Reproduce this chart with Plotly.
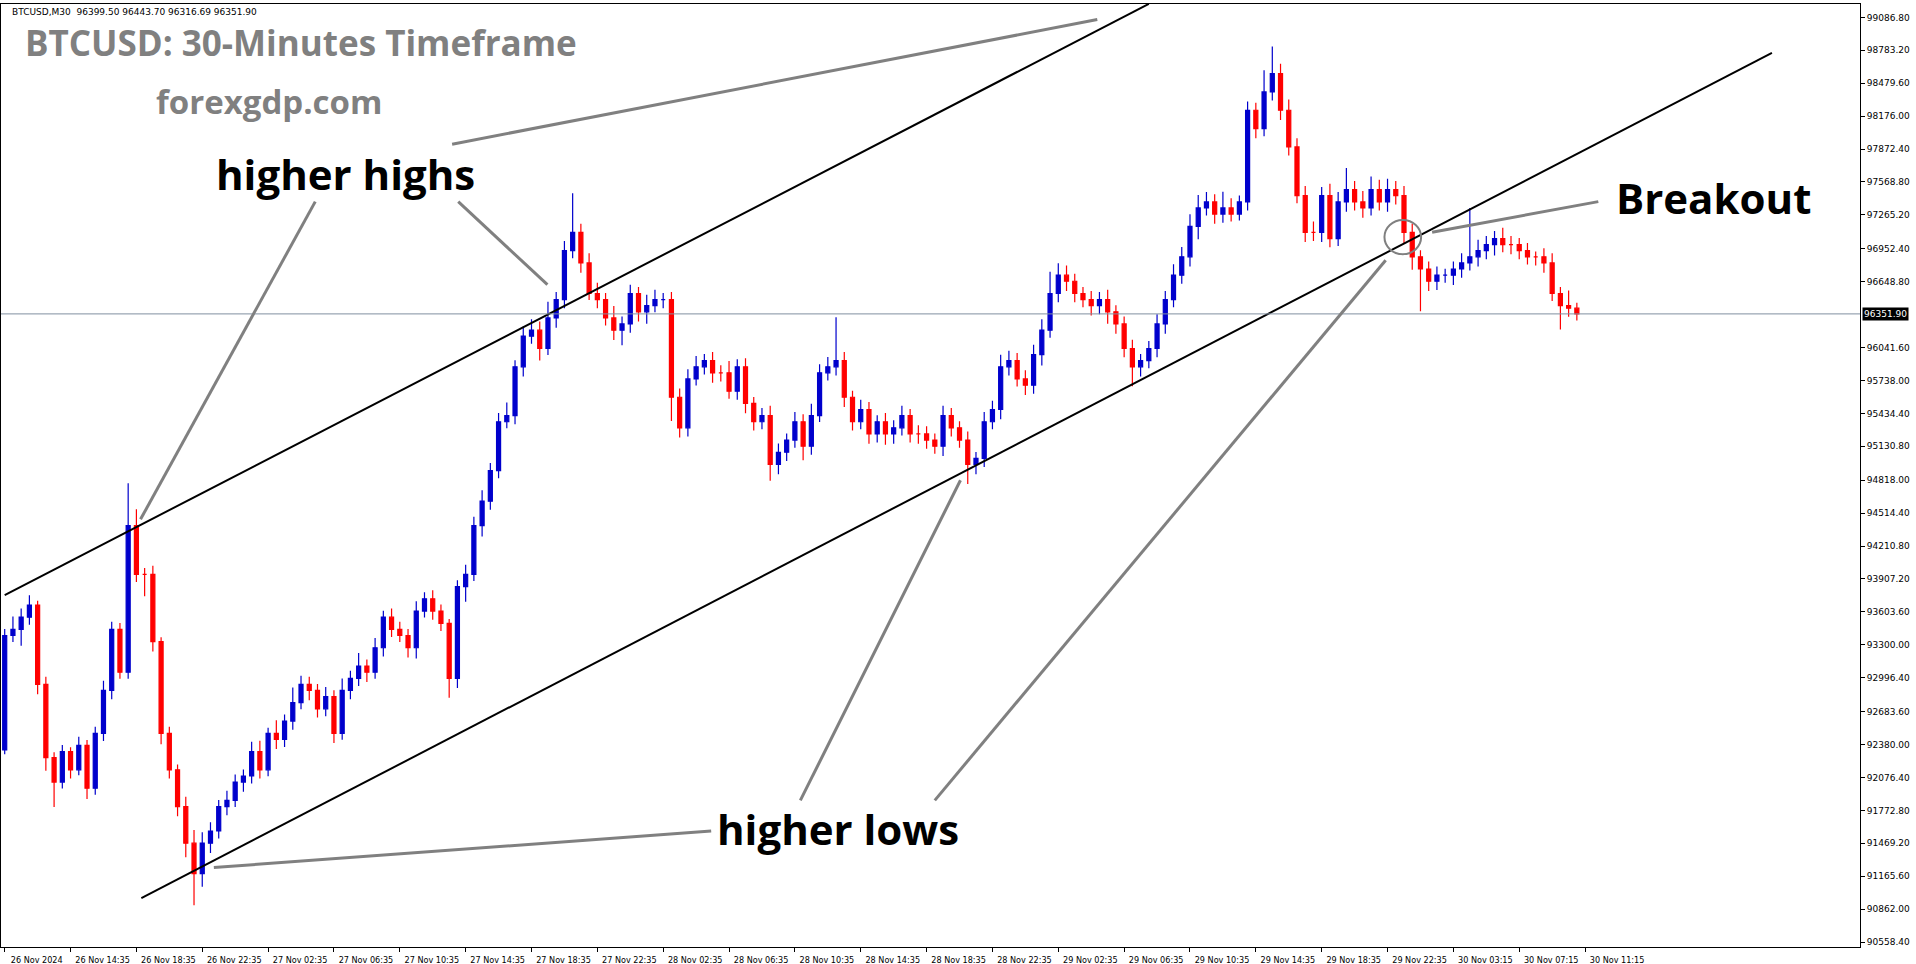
import plotly.graph_objects as go

closes = [93386, 93442, 93555, 93667, 92935, 92259, 92034, 92315, 92147, 92372,
          91978, 92484, 92879, 93442, 93048, 94400, 93949, 93949, 93329, 92484,
          92147, 91808, 91471, 91189, 91471, 91583, 91808, 91865, 92034, 92090,
          92315, 92147, 92484, 92428, 92597, 92766, 92935, 92879, 92710, 92822,
          92484, 92879, 92991, 93104, 93048, 93273, 93555, 93442, 93386, 93273,
          93611, 93724, 93611, 93498, 92991, 93836, 93949, 94400, 94625, 94907,
          95357, 95414, 95864, 96146, 96202, 96033, 96315, 96484, 96935, 97104,
          96822, 96540, 96484, 96315, 96202, 96259, 96540, 96371, 96428, 96484,
          96484, 95583, 95301, 95752, 95864, 95921, 95808, 95808, 95639, 95864,
          95526, 95357, 95414, 94963, 95076, 95188, 95357, 95132, 95414, 95808,
          95864, 95921, 95583, 95357, 95470, 95245, 95357, 95245, 95301, 95414,
          95245, 95245, 95188, 95132, 95414, 95301, 95188, 94963, 95019, 95357,
          95470, 95864, 95921, 95752, 95695, 95977, 96202, 96540, 96709, 96653,
          96540, 96484, 96428, 96484, 96371, 96259, 96033, 95864, 95921, 96033,
          96259, 96484, 96709, 96878, 97160, 97329, 97385, 97273, 97329, 97273,
          97385, 98230, 98061, 98399, 98568, 98230, 97892, 97442, 97104, 97104,
          97442, 97047, 97385, 97498, 97385, 97329, 97498, 97385, 97498, 97442,
          97104, 96878, 96766, 96653, 96709, 96709, 96766, 96822, 96878, 96935,
          96991, 97047, 96991, 96991, 96935, 96878, 96878, 96822, 96540, 96428,
          96405, 96352]
first_open = 92330
upper_wick = [60, 120, 80, 90, 40, 70, 50, 60, 40, 80,
              50, 60, 90, 70, 60, 390, 150, 60, 80, 40,
              60, 50, 90, 120, 100, 80, 60, 90, 70, 60,
              90, 100, 50, 120, 60, 140, 80, 70, 60, 90,
              60, 110, 70, 120, 60, 90, 60, 80, 70, 60,
              90, 60, 80, 60, 40, 60, 90, 80, 100, 70,
              80, 120, 60, 90, 100, 80, 150, 70, 90, 360,
              80, 90, 100, 60, 110, 70, 80, 60, 100, 90,
              60, 70, 80, 90, 100, 60, 80, 70, 110, 70,
              80, 60, 70, 90, 80, 60, 90, 70, 110, 80,
              90, 400, 80, 60, 90, 70, 60, 80, 70, 90,
              60, 80, 70, 60, 90, 70, 60, 80, 60, 90,
              80, 110, 90, 70, 80, 90, 100, 200, 110, 90,
              70, 60, 80, 70, 90, 60, 70, 80, 60, 70,
              90, 80, 100, 90, 110, 120, 90, 70, 150, 90,
              60, 80, 70, 200, 250, 90, 100, 80, 90, 100,
              80, 110, 90, 200, 80, 100, 120, 90, 100, 80,
              90, 80, 60, 70, 80, 60, 70, 90, 450, 100,
              80, 70, 100, 80, 60, 70, 50, 80, 90, 60,
              140, 50]
lower_wick = [40, 60, 150, 70, 90, 120, 230, 60, 80, 50,
              100, 60, 70, 80, 60, 60, 70, 200, 90, 100,
              80, 90, 130, 290, 120, 90, 70, 80, 60, 90,
              70, 80, 60, 90, 70, 80, 60, 90, 80, 70,
              90, 60, 80, 70, 90, 60, 80, 70, 60, 90,
              100, 60, 80, 70, 180, 90, 140, 60, 100, 80,
              70, 60, 80, 90, 70, 110, 60, 90, 80, 70,
              90, 60, 80, 70, 90, 140, 80, 90, 110, 60,
              80, 220, 90, 80, 60, 70, 90, 80, 70, 80,
              90, 80, 70, 150, 90, 80, 70, 130, 80, 60,
              70, 80, 90, 80, 70, 90, 80, 100, 90, 70,
              80, 90, 80, 70, 90, 80, 70, 180, 90, 80,
              70, 90, 80, 70, 90, 80, 100, 70, 80, 90,
              80, 70, 90, 80, 110, 90, 80, 180, 90, 70,
              80, 90, 70, 80, 90, 120, 70, 90, 80, 70,
              60, 80, 90, 70, 80, 90, 80, 70, 90, 80,
              90, 80, 70, 90, 80, 90, 70, 80, 90, 80,
              100, 120, 390, 90, 80, 70, 90, 80, 70, 90,
              80, 100, 70, 90, 80, 70, 80, 90, 70, 220,
              80, 60]
tick_labels = ["26 Nov 2024", "26 Nov 14:35", "26 Nov 18:35", "26 Nov 22:35", "27 Nov 02:35",
               "27 Nov 06:35", "27 Nov 10:35", "27 Nov 14:35", "27 Nov 18:35", "27 Nov 22:35",
               "28 Nov 02:35", "28 Nov 06:35", "28 Nov 10:35", "28 Nov 14:35", "28 Nov 18:35",
               "28 Nov 22:35", "29 Nov 02:35", "29 Nov 06:35", "29 Nov 10:35", "29 Nov 14:35",
               "29 Nov 18:35", "29 Nov 22:35", "30 Nov 03:15", "30 Nov 07:15", "30 Nov 11:15"]
price_ticks = [99086.80, 98783.20, 98479.60, 98176.00, 97872.40, 97568.80, 97265.20, 96952.40,
               96648.80, 96041.60, 95738.00, 95434.40, 95130.80, 94818.00, 94514.40, 94210.80,
               93907.20, 93603.60, 93300.00, 92996.40, 92683.60, 92380.00, 92076.40, 91772.80,
               91469.20, 91165.60, 90862.00, 90558.40]
last_price = 96351.90
upper_channel_x = [0, 139]
upper_channel_y = [93758, 99211]
lower_channel_x = [16.6, 214.7]
lower_channel_y = [90964, 98760]

n = len(closes)
idx = list(range(n))
opens = [first_open] + closes[:-1]
highs = [max(o, c) + u for o, c, u in zip(opens, closes, upper_wick)]
lows = [min(o, c) - l for o, c, l in zip(opens, closes, lower_wick)]

fig = go.Figure()
fig.add_trace(go.Candlestick(
    x=idx, open=opens, high=highs, low=lows, close=closes,
    increasing=dict(line=dict(color="#0000CC", width=1.2), fillcolor="#0000CC"),
    decreasing=dict(line=dict(color="#FF0000", width=1.2), fillcolor="#FF0000"),
    whiskerwidth=0, showlegend=False, hoverinfo="skip"))
for xs, ys in [(upper_channel_x, upper_channel_y), (lower_channel_x, lower_channel_y)]:
    fig.add_trace(go.Scatter(x=xs, y=ys, mode="lines", line=dict(color="black", width=2),
                             showlegend=False, hoverinfo="skip"))

W, H = 1916, 964
L, R, T, B = 1, 56, 4, 17
S = 1916 / 1568


def px(xd):
    return (xd * S - L) / (W - L - R)


def py(yd):
    return 1 - (yd * S - T) / (H - T - B)


shapes = []
shapes.append(dict(type="line", xref="x", yref="y", x0=-1, x1=230, y0=last_price, y1=last_price,
                   line=dict(color="#8090A0", width=1)))
pointers = [((115, 425), (258, 165)), ((448, 233), (375, 165)), ((370, 118), (898, 16)),
            ((175, 710), (582, 680)), ((786, 393), (655, 655)), ((1134, 213), (765, 655)),
            ((1172, 190), (1308, 165))]
for (x0, y0), (x1, y1) in pointers:
    shapes.append(dict(type="line", xref="paper", yref="paper", x0=px(x0), y0=py(y0), x1=px(x1), y1=py(y1),
                       line=dict(color="#808080", width=3)))
shapes.append(dict(type="circle", xref="paper", yref="paper", x0=px(1133), x1=px(1163),
                   y0=py(180), y1=py(208), line=dict(color="#808080", width=2)))

annotations = [
    dict(text="higher highs", x=px(283), y=py(142), font=dict(size=42, color="black")),
    dict(text="higher lows", x=px(686), y=py(678), font=dict(size=42, color="black")),
    dict(text="Breakout", x=px(1402), y=py(162), font=dict(size=42, color="black")),
    dict(text="BTCUSD: 30-Minutes Timeframe", x=px(246), y=py(35), font=dict(size=35, color="#808080")),
    dict(text="forexgdp.com", x=px(220), y=py(83), font=dict(size=33, color="#808080")),
]
for a in annotations:
    a.update(xref="paper", yref="paper", showarrow=False, xanchor="center", yanchor="middle",
             font=dict(family="Open Sans", weight="bold", **a["font"]))
annotations.append(dict(text="BTCUSD,M30  96399.50 96443.70 96316.69 96351.90", xref="paper", yref="paper",
                        x=0.005, y=0.999, xanchor="left", yanchor="top", showarrow=False,
                        font=dict(family="DejaVu Sans", size=9, color="black")))
annotations.append(dict(text="96351.90", xref="paper", yref="y", x=1.0, xanchor="left", xshift=2, y=last_price,
                        showarrow=False, bgcolor="black", borderpad=1,
                        font=dict(family="DejaVu Sans", size=9, color="white")))

fig.update_layout(
    width=W, height=H, margin=dict(l=L, r=R, t=T, b=B, autoexpand=False),
    paper_bgcolor="white", plot_bgcolor="white",
    shapes=shapes, annotations=annotations,
    xaxis=dict(range=[-0.45, 225.4], tickvals=[i * 8 for i in range(len(tick_labels))], ticktext=tick_labels,
               rangeslider=dict(visible=False), showgrid=False, zeroline=False, showline=True,
               linecolor="black", mirror=True, ticks="outside", ticklen=4, tickcolor="black",
               tickangle=0, automargin=False, ticklabelshift=32,
               tickfont=dict(family="DejaVu Sans Condensed", size=9, color="black")),
    yaxis=dict(range=[90513, 99210], side="right", tickvals=price_ticks, automargin=False,
               ticktext=[f"{v:.2f}" for v in price_ticks], showgrid=False, zeroline=False, showline=True,
               linecolor="black", mirror=True, ticks="outside", ticklen=4, tickcolor="black",
               tickfont=dict(family="DejaVu Sans", size=9, color="black")),
)
fig.write_html("out.html", config={"displayModeBar": False},
               post_script="document.body.style.margin='0';document.body.style.overflow='hidden';")
